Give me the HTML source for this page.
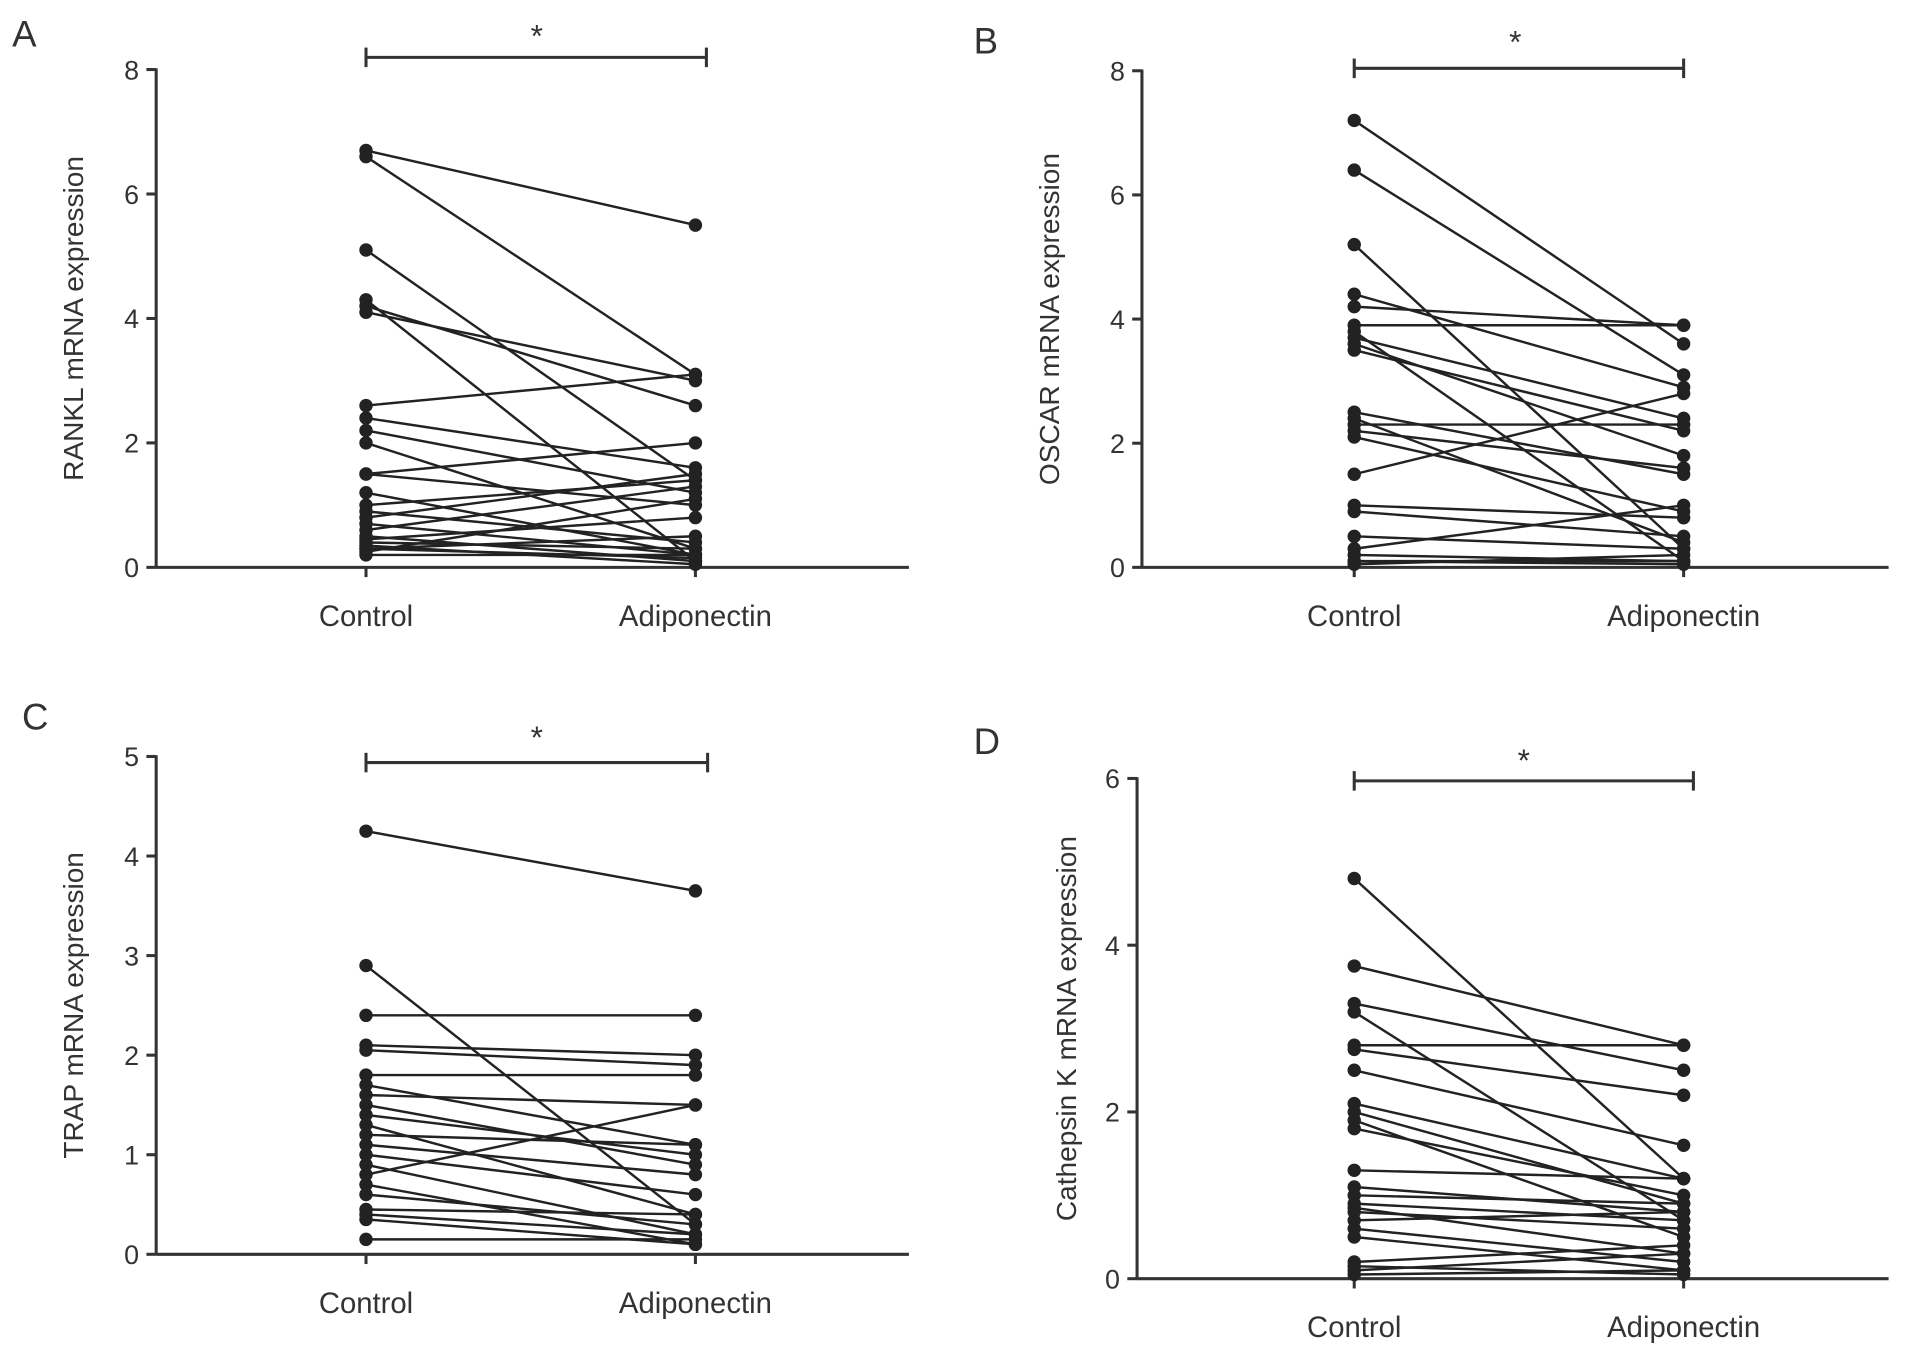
<!DOCTYPE html>
<html><head><meta charset="utf-8">
<style>
html,body{margin:0;padding:0;background:#fff;}
svg{display:block;}
text{font-family:"Liberation Sans",sans-serif;fill:#333;}
</style></head>
<body>
<svg id="chart" width="1913" height="1358" viewBox="0 0 1568 1113" preserveAspectRatio="none" xmlns="http://www.w3.org/2000/svg"></svg>
<script>
// Panel A (RANKL)
const ticksA = [0,2,4,6,8];
const controlA = [6.7,6.6,5.1,4.3,4.2,4.1,2.6,2.4,2.2,2.0,1.5,1.5,1.2,1.0,0.9,0.8,0.7,0.6,0.5,0.45,0.4,0.35,0.3,0.3,0.25,0.2];
const adipoA   = [5.5,3.1,1.4,0.1,2.6,3.0,3.1,1.6,1.2,0.3,2.0,1.0,0.2,1.4,0.4,1.5,0.2,1.3,0.1,0.8,0.3,0.05,0.5,0.15,1.1,0.2];
// Panel B (OSCAR)
const ticksB = [0,2,4,6,8];
const controlB = [7.2,6.4,5.2,4.4,4.2,3.9,3.8,3.7,3.6,3.5,2.5,2.4,2.3,2.2,2.1,1.5,1.0,0.9,0.5,0.3,0.2,0.1,0.05,0.1];
const adipoB   = [3.6,3.1,0.3,2.9,3.9,3.9,0.1,2.4,1.8,2.2,1.5,0.4,2.3,1.6,0.9,2.8,0.8,0.5,0.3,1.0,0.1,0.05,0.2,0.1];
// Panel C (TRAP)
const ticksC = [0,1,2,3,4,5];
const controlC = [4.25,2.9,2.4,2.1,2.05,1.8,1.7,1.6,1.5,1.4,1.3,1.2,1.1,1.0,0.9,0.8,0.7,0.6,0.45,0.4,0.35,0.15];
const adipoC   = [3.65,0.3,2.4,2.0,1.9,1.8,1.1,1.5,0.9,1.0,0.4,1.1,0.8,0.6,0.2,1.5,0.1,0.3,0.4,0.2,0.1,0.15];
// Panel D (Cathepsin K)
const ticksD = [0,2,4,6];
const controlD = [4.8,3.75,3.3,3.2,2.8,2.75,2.5,2.1,2.0,1.9,1.8,1.3,1.1,1.0,0.9,0.85,0.8,0.7,0.6,0.5,0.2,0.15,0.1,0.05];
const adipoD   = [1.2,2.8,2.5,0.7,2.8,2.2,1.6,1.2,0.9,0.5,1.0,1.2,0.8,0.9,0.7,0.3,0.6,0.8,0.2,0.1,0.4,0.05,0.3,0.1];

const NS="http://www.w3.org/2000/svg";
const svg=document.getElementById('chart');
function mk(tag,attrs,parent){const e=document.createElementNS(NS,tag);for(const k in attrs)e.setAttribute(k,attrs[k]);(parent||svg).appendChild(e);return e;}

const panels=[
 {letter:'A',lx:10,ly:38,ax:128,y0:465,ytop:57,max:8,xEnd:745,cx:300,ax2:570,br:47,brR:579,star:[440,28],title:'RANKL mRNA expression',tx:68,ticks:ticksA,c:controlA,a:adipoA,labY:513},
 {letter:'B',lx:798,ly:44,ax:936,y0:465,ytop:58,max:8,xEnd:1548,cx:1110,ax2:1380,br:56,brR:1380,star:[1242,33],title:'OSCAR mRNA expression',tx:868,ticks:ticksB,c:controlB,a:adipoB,labY:513},
 {letter:'C',lx:18,ly:598,ax:128,y0:1028,ytop:620,max:5,xEnd:745,cx:300,ax2:570,br:625,brR:580,star:[440,603],title:'TRAP mRNA expression',tx:68,ticks:ticksC,c:controlC,a:adipoC,labY:1076},
 {letter:'D',lx:798,ly:618,ax:932,y0:1048,ytop:638,max:6,xEnd:1548,cx:1110,ax2:1380,br:640,brR:1388,star:[1249,622],title:'Cathepsin K mRNA expression',tx:882,ticks:ticksD,c:controlD,a:adipoD,labY:1096}
];

panels.forEach(p=>{
  const g=mk('g',{});
  
  
  const y=v=>p.y0-(v/p.max)*(p.y0-p.ytop);
  const L=mk('text',{x:p.lx,y:p.ly,'font-size':30},g);L.textContent=p.letter;
  
  
  // axes
  const ya=mk('line',{x1:p.ax,y1:p.ytop-1,x2:p.ax,y2:p.y0,stroke:'#333','stroke-width':2.5},g);
  
  
  const xa=mk('line',{x1:p.ax,y1:p.y0,x2:p.xEnd,y2:p.y0,stroke:'#333','stroke-width':2.5},g);
  
  
  p.ticks.forEach(t=>{
    mk('line',{x1:p.ax-8,y1:y(t),x2:p.ax,y2:y(t),stroke:'#333','stroke-width':2.5},g);
    const tl=mk('text',{x:p.ax-14,y:y(t)+8,'font-size':22,'text-anchor':'end'},g);tl.textContent=t;
    
    
  });
  [p.cx,p.ax2].forEach(x=>mk('line',{x1:x,y1:p.y0,x2:x,y2:p.y0+8,stroke:'#333','stroke-width':2.5},g));
  const c1=mk('text',{x:p.cx,y:p.labY,'font-size':24,'text-anchor':'middle'},g);c1.textContent='Control';
  
  
  const c2=mk('text',{x:p.ax2,y:p.labY,'font-size':24,'text-anchor':'middle'},g);c2.textContent='Adiponectin';
  
  
  const midY=(p.y0+p.ytop)/2;
  const yt=mk('text',{x:p.tx,y:midY,'font-size':23,'text-anchor':'middle',transform:`rotate(-90 ${p.tx} ${midY})`},g);yt.textContent=p.title;
  
  
  // significance bracket
  const bx1=p.cx, bx2=p.brR;
  mk('line',{x1:bx1,y1:p.br,x2:bx2,y2:p.br,stroke:'#333','stroke-width':2.5},g);
  mk('line',{x1:bx1,y1:p.br-8,x2:bx1,y2:p.br+8,stroke:'#333','stroke-width':2.5},g);
  mk('line',{x1:bx2,y1:p.br-8,x2:bx2,y2:p.br+8,stroke:'#333','stroke-width':2.5},g);
  const st=mk('text',{x:p.star[0],y:p.star[1]+10,'font-size':26,'text-anchor':'middle'},g);st.textContent='*';
  
  
  // pairs
  p.c.forEach((cv,i)=>{
    const av=p.a[i];
    const ln=mk('line',{x1:p.cx,y1:y(cv),x2:p.ax2,y2:y(av),stroke:'#222','stroke-width':2},g);
    
    
    const d1=mk('circle',{cx:p.cx,cy:y(cv),r:5.5,fill:'#222'},g);
    
    
    const d2=mk('circle',{cx:p.ax2,cy:y(av),r:5.5,fill:'#222'},g);
    
    
  });
});
</script>
</body></html>
